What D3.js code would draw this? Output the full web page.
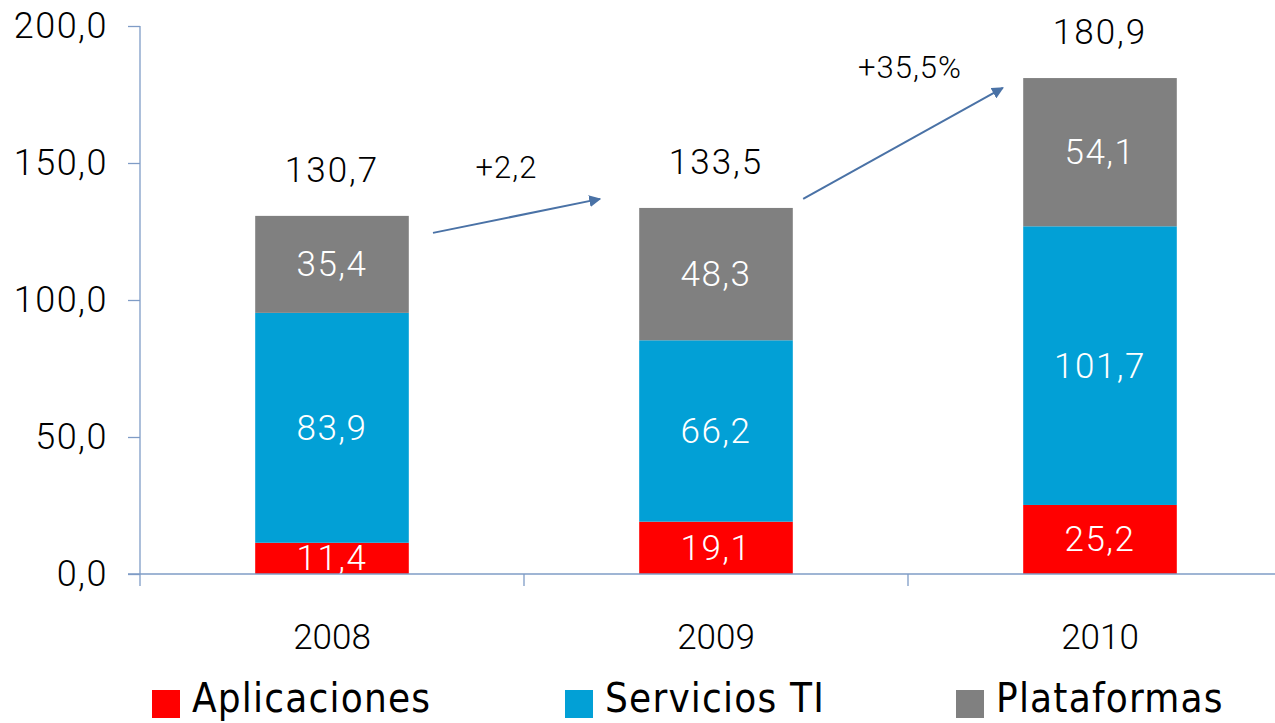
<!DOCTYPE html>
<html>
<head>
<meta charset="utf-8">
<script src="https://cdn.jsdelivr.net/npm/d3@7"></script>
<style>
  body { margin: 0; background: #fff; }
  svg { display: block; }
</style>
</head>
<body>
<svg></svg>
<script>
// data
let years = ['2008', '2009', '2010'];
let series = ['Aplicaciones', 'Servicios TI', 'Plataformas'];
let aplicaciones = [11.4, 19.1, 25.2];
let servicios = [83.9, 66.2, 101.7];
let plataformas = [35.4, 48.3, 54.1];
let totals = [130.7, 133.5, 180.9];
let yTicks = [0, 50, 100, 150, 200];

// growth arrows: from one year to the next, in data units
let arrowFrom = ['2008', '2009'];
let arrowTo = ['2009', '2010'];
let arrowY0 = [124.5, 136.9];
let arrowY1 = [136.9, 177.4];
let arrowLabels = ['+2,2', '+35,5%'];

let colors = ['#ff0000', '#02a0d6', '#808080'];
let axisColor = '#7f9cc6';

let width = 1275;
let height = 723;
let left = 140;
let step = 384;

let svg = d3.select('svg')
    .attr('width', width)
    .attr('height', height);

let comma = (v, f) => d3.format(f)(v).replace('.', ',');

let xScale = d3.scaleBand()
    .domain(years)
    .range([left, left + step * years.length])
    .padding(0);

let yScale = d3.scaleLinear()
    .domain([0, 200])
    .range([574, 26]);

let barW = xScale.bandwidth() * 0.4;

// stacked data
let rows = years.map((y, i) => ({
    year: y,
    'Aplicaciones': aplicaciones[i],
    'Servicios TI': servicios[i],
    'Plataformas': plataformas[i]
}));
let stacked = d3.stack().keys(series)(rows);

let bars = svg.append('g');
stacked.forEach((layer, si) => {
    let g = bars.append('g').attr('fill', colors[si]);
    g.selectAll('rect')
        .data(layer)
        .join('rect')
        .attr('x', d => xScale(d.data.year) + (xScale.bandwidth() - barW) / 2)
        .attr('width', barW)
        .attr('y', d => yScale(d[1]))
        .attr('height', d => yScale(d[0]) - yScale(d[1]));

    bars.append('g').selectAll('text')
        .data(layer)
        .join('text')
        .attr('x', d => xScale(d.data.year) + xScale.bandwidth() / 2)
        .attr('y', d => (yScale(d[0]) + yScale(d[1])) / 2 + 12)
        .attr('text-anchor', 'middle')
        .attr('fill', '#fff')
        .style('font-family', 'Roboto, sans-serif')
        .style('font-size', '35px')
        .style('font-weight', 300)
        .style('letter-spacing', '1.5px')
        .text(d => comma(d[1] - d[0], '.1f'));
});

// totals above the bars
svg.append('g').selectAll('text')
    .data(totals)
    .join('text')
    .attr('x', (d, i) => xScale(years[i]) + xScale.bandwidth() / 2)
    .attr('y', d => yScale(d) - 34)
    .attr('text-anchor', 'middle')
    .attr('fill', '#000')
    .style('font-family', 'Roboto, sans-serif')
    .style('font-size', '35px')
    .style('font-weight', 300)
    .style('letter-spacing', '2px')
    .text(d => comma(d, '.1f'));

// y axis
let yAxis = d3.axisLeft(yScale)
    .tickValues(yTicks)
    .tickSize(12)
    .tickPadding(20)
    .tickFormat(d => comma(d, '.1f'));

let gy = svg.append('g')
    .attr('transform', `translate(${left},0)`)
    .call(yAxis);
gy.select('.domain').remove();
gy.append('line')
    .attr('x1', 0).attr('x2', 0)
    .attr('y1', yScale(200)).attr('y2', yScale(0) + 12);
gy.selectAll('line').attr('stroke', axisColor).attr('stroke-width', 1.3);
gy.selectAll('text')
    .attr('fill', '#000')
    .style('font-family', 'Roboto, sans-serif')
    .style('font-size', '36px')
    .style('font-weight', 300)
    .style('letter-spacing', '1.5px');

// x axis
let xAxis = d3.axisBottom(xScale).tickSize(0).tickPadding(48);
let gx = svg.append('g')
    .attr('transform', `translate(0,${yScale(0)})`)
    .call(xAxis);
gx.select('.domain').remove();
gx.append('line')
    .attr('x1', left - 12).attr('x2', width)
    .attr('stroke', axisColor).attr('stroke-width', 1.3);
gx.selectAll('.bound')
    .data(years.slice(1).concat(['end']))
    .join('line')
    .attr('class', 'bound')
    .attr('x1', (d, i) => xScale(years[i]) + xScale.bandwidth())
    .attr('x2', (d, i) => xScale(years[i]) + xScale.bandwidth())
    .attr('y1', 0).attr('y2', 12)
    .attr('stroke', axisColor).attr('stroke-width', 1.3);
gx.selectAll('text')
    .attr('fill', '#000')
    .attr('dy', 0)
    .attr('y', 75)
    .style('font-family', 'Roboto, sans-serif')
    .style('font-size', '35px')
    .style('font-weight', 300);

// growth arrows
let defs = svg.append('defs');
defs.append('marker')
    .attr('id', 'arrow')
    .attr('viewBox', '0 0 10 10')
    .attr('refX', 9).attr('refY', 5)
    .attr('markerWidth', 6).attr('markerHeight', 6)
    .attr('orient', 'auto')
    .append('path')
    .attr('d', 'M0,0L10,5L0,10z')
    .attr('fill', '#4a72a6');

let arrowX0 = [0.763, 0.727];
let arrowX1 = [0.198, 0.247];
let labelDx = [-10, 7];
let labelDy = [21, 10];
let ag = svg.append('g');
arrowLabels.forEach((lab, i) => {
    let x0 = xScale(arrowFrom[i]) + xScale.bandwidth() * arrowX0[i];
    let x1 = xScale(arrowTo[i]) + xScale.bandwidth() * arrowX1[i];
    ag.append('line')
        .attr('x1', x0).attr('y1', yScale(arrowY0[i]))
        .attr('x2', x1).attr('y2', yScale(arrowY1[i]))
        .attr('stroke', '#4a72a6')
        .attr('stroke-width', 2)
        .attr('marker-end', 'url(#arrow)');
    ag.append('text')
        .attr('x', (x0 + x1) / 2 + labelDx[i])
        .attr('y', yScale(arrowY1[i]) - labelDy[i])
        .attr('text-anchor', 'middle')
        .attr('fill', '#000')
        .style('font-family', 'Roboto, sans-serif')
        .style('font-size', '31px')
        .style('font-weight', 300)
        .style('letter-spacing', '1px')
        .text(lab);
});

// legend
let legendX = [152, 565, 956];
let lg = svg.append('g');
series.forEach((s, i) => {
    lg.append('rect')
        .attr('x', legendX[i]).attr('y', 690)
        .attr('width', 28).attr('height', 28)
        .attr('fill', colors[i]);
    lg.append('text')
        .attr('x', legendX[i] + 40).attr('y', 712)
        .attr('fill', '#000')
        .style('font-family', '"DejaVu Sans Condensed", "DejaVu Sans", sans-serif')
        .style('font-size', '40px')
        .style('letter-spacing', '1.2px')
        .text(s);
});
</script>
</body>
</html>
